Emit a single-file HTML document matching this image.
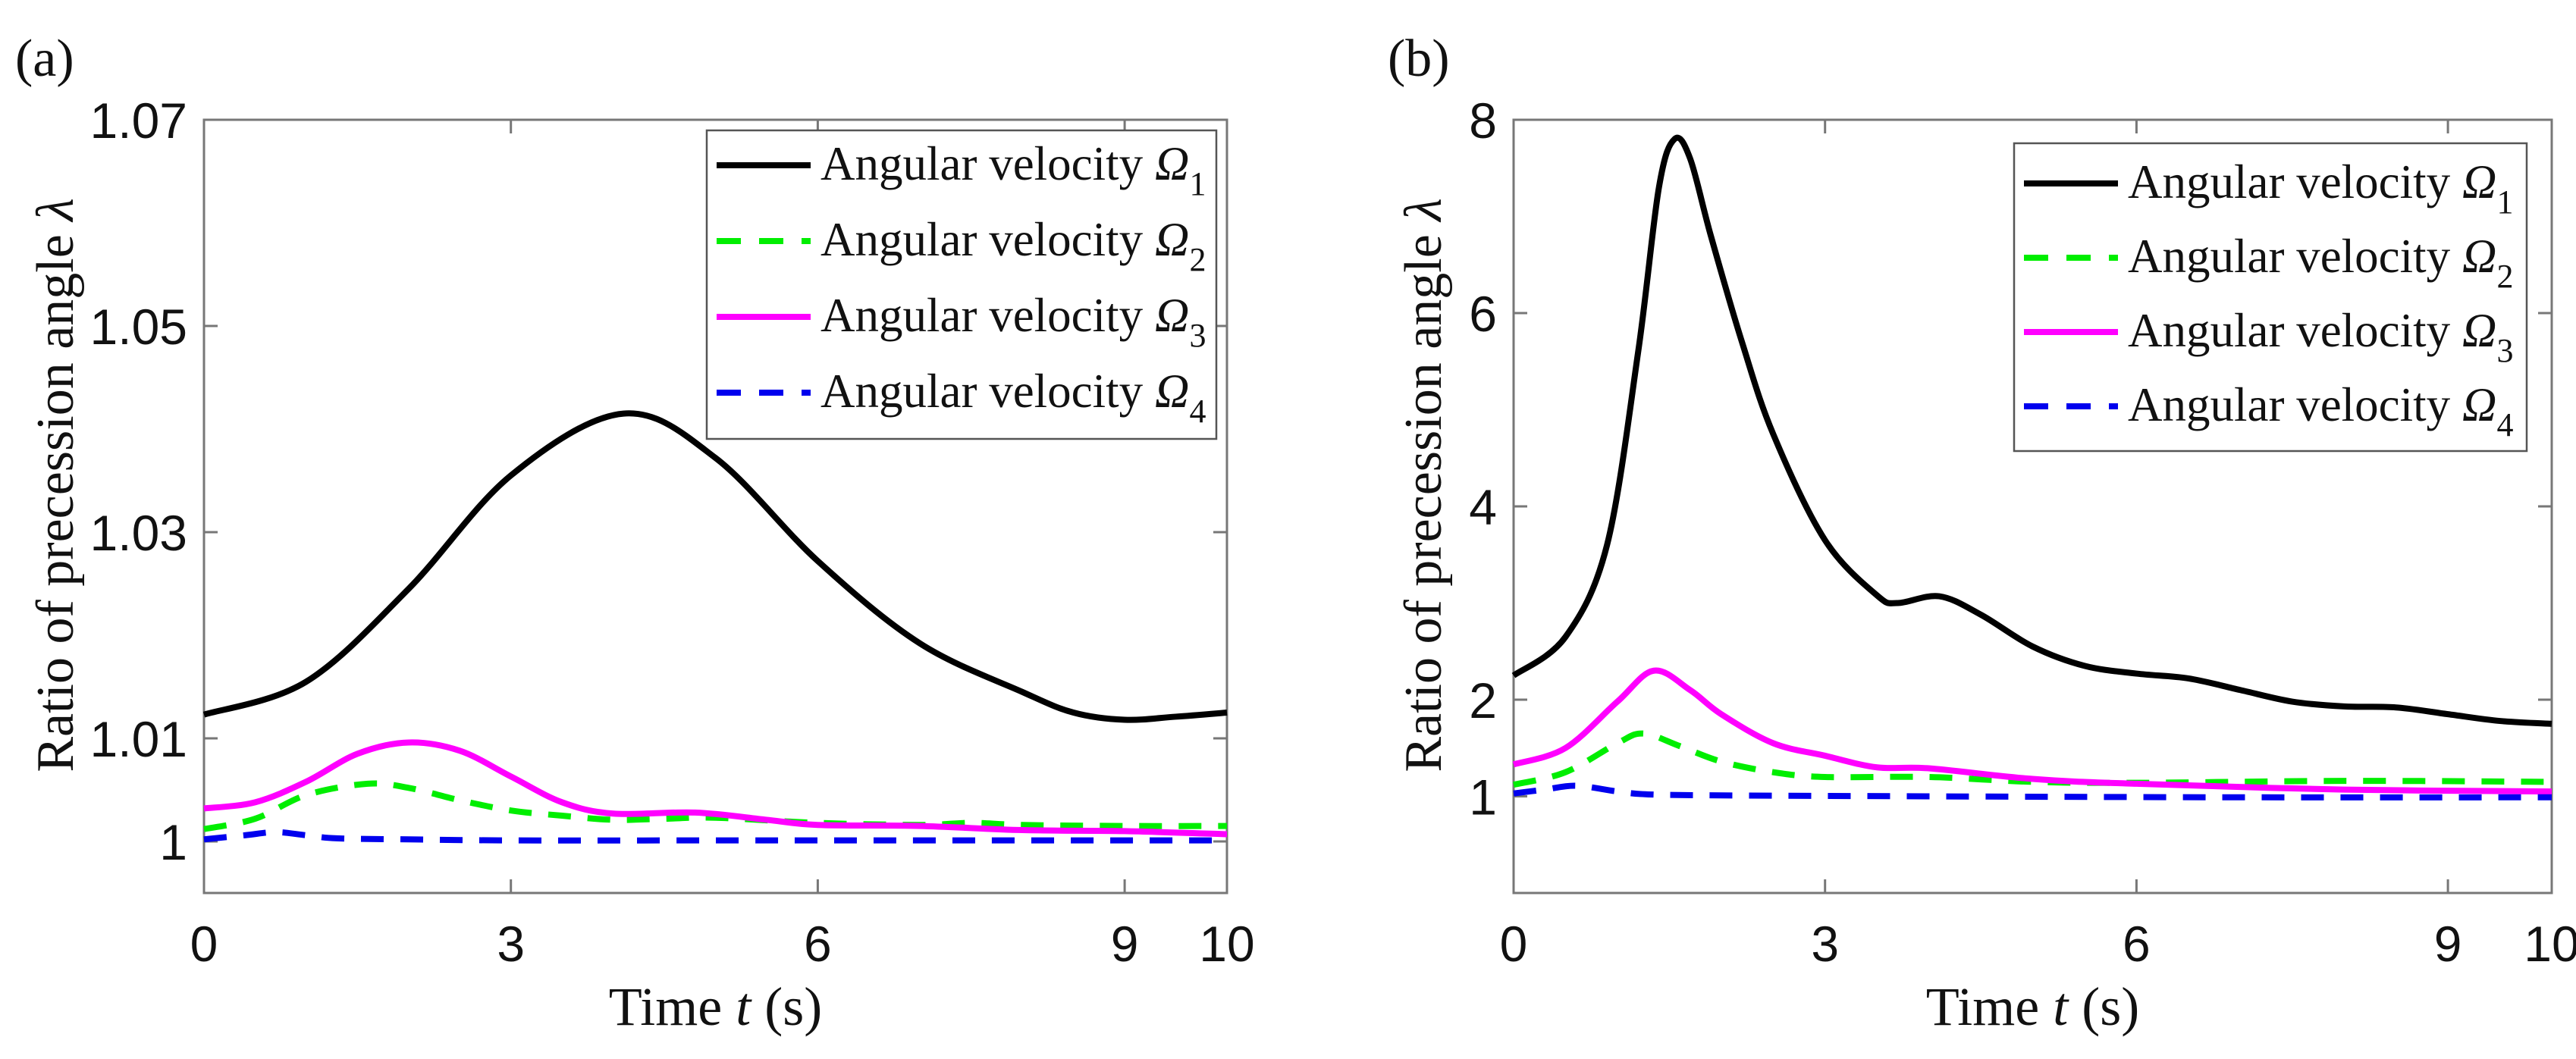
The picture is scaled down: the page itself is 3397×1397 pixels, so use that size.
<!DOCTYPE html>
<html><head><meta charset="utf-8"><style>
html,body{margin:0;padding:0;background:#fff;}
svg{display:block;}
</style></head><body>
<svg id="fig" width="3397" height="1397" viewBox="0 0 3397 1397" xmlns="http://www.w3.org/2000/svg"></svg>
<script>
// ---- Panel (a) data ----
const aBlackX=[0,1,2,3,4.1,5,6,7,8,8.5,9,9.5,10];
const aBlackY=[1.0123,1.0155,1.0245,1.0355,1.0415,1.0372,1.0272,1.0192,1.0145,1.0125,1.0118,1.0121,1.0125];
const aMagX=[0,0.5,1,1.5,2,2.5,3,3.5,4,4.8,5.5,6,7,8,9,10];
const aMagY=[1.0032,1.0038,1.0058,1.0085,1.0096,1.0088,1.0063,1.0038,1.0027,1.0028,1.0021,1.0016,1.0015,1.0011,1.0010,1.0007];
const aGreenX=[0,0.5,1,1.6,2,2.5,3,3.5,4,4.5,5,6,7,7.5,8,9,10];
const aGreenY=[1.0012,1.0022,1.0045,1.0056,1.0052,1.0040,1.0030,1.0025,1.0021,1.0022,1.0023,1.0018,1.0016,1.0018,1.0016,1.0015,1.0015];
const aBlueX=[0,0.4,0.7,1,1.3,2,3,5,7,10];
const aBlueY=[1.0002,1.0006,1.0009,1.0006,1.0003,1.0002,1.0001,1.0001,1.0001,1.0001];
const aXTicks=[0,3,6,9,10];
const aYTicks=[1,1.01,1.03,1.05,1.07];
const aYTickLabels=["1","1.01","1.03","1.05","1.07"];
// ---- Panel (b) data ----
const bBlackX=[0,0.5,0.9,1.2,1.4,1.55,1.7,1.9,2.2,2.5,3,3.5,3.7,4.1,4.5,5,5.5,6,6.5,7,7.5,8,8.5,9,9.5,10];
const bBlackY=[2.25,2.65,3.6,5.6,7.3,7.8,7.6,6.8,5.7,4.75,3.65,3.08,3.0,3.07,2.88,2.55,2.35,2.27,2.22,2.1,1.98,1.93,1.92,1.85,1.78,1.75];
const bMagX=[0,0.5,1,1.35,1.7,2,2.5,3,3.5,4,5,6,8,10];
const bMagY=[1.33,1.5,1.98,2.3,2.1,1.85,1.55,1.42,1.3,1.29,1.18,1.13,1.07,1.05];
const bGreenX=[0,0.5,1,1.25,1.6,2,2.5,3,4,5,6,8,10];
const bGreenY=[1.12,1.25,1.55,1.65,1.52,1.36,1.25,1.2,1.2,1.15,1.14,1.16,1.15];
const bBlueX=[0,0.3,0.6,1,1.3,2,4,7,10];
const bBlueY=[1.03,1.07,1.11,1.05,1.02,1.01,1.0,0.99,0.99];
const bXTicks=[0,3,6,9,10];
const bYTicks=[1,2,4,6,8];
const bYTickLabels=["1","2","4","6","8"];
const legendSubs=["1","2","3","4"];

const NS="http://www.w3.org/2000/svg";
const svg=document.getElementById('fig');
function mk(tag,attrs,parent){const e=document.createElementNS(NS,tag);for(const k in attrs)e.setAttribute(k,attrs[k]);(parent||svg).appendChild(e);return e;}
function smooth(pts){
  let d=`M${pts[0][0]},${pts[0][1]}`;
  for(let i=0;i<pts.length-1;i++){
    const p0=pts[Math.max(0,i-1)],p1=pts[i],p2=pts[i+1],p3=pts[Math.min(pts.length-1,i+2)];
    const c1=[p1[0]+(p2[0]-p0[0])/6,p1[1]+(p2[1]-p0[1])/6];
    const c2=[p2[0]-(p3[0]-p1[0])/6,p2[1]-(p3[1]-p1[1])/6];
    d+=` C${c1[0]},${c1[1]} ${c2[0]},${c2[1]} ${p2[0]},${p2[1]}`;
  }
  return d;
}
const styles=[
  {c:"#000",dash:null},{c:"#00ee00",dash:"30 22"},{c:"#ff00ff",dash:null},{c:"#0000ee",dash:"30 22"}
];
function panel(o){
  const g=mk('g',{});
  
  
  const L=o.L,R=o.R,T=158,B=1178;
  const sx=v=>L+(v-0)/(10-0)*(R-L);
  const sy=v=>B-(v-o.ymin)/(o.ymax-o.ymin)*(B-T);
  const box=mk('rect',{x:L,y:T,width:R-L,height:B-T,fill:'none',stroke:'#777','stroke-width':3},g);
  
  o.xt.forEach(v=>{
    const x=sx(v);
    mk('line',{x1:x,y1:B,x2:x,y2:B-18,stroke:'#777','stroke-width':3},g);
    mk('line',{x1:x,y1:T,x2:x,y2:T+18,stroke:'#777','stroke-width':3},g);
    const t=mk('text',{x:x,y:1268,'font-family':'Liberation Sans, sans-serif','font-size':66,'text-anchor':'middle',fill:'#111'},g);
    t.textContent=String(v);
    
  });
  o.yt.forEach((v,i)=>{
    const y=sy(v);
    mk('line',{x1:L,y1:y,x2:L+18,y2:y,stroke:'#777','stroke-width':3},g);
    mk('line',{x1:R,y1:y,x2:R-18,y2:y,stroke:'#777','stroke-width':3},g);
    const t=mk('text',{x:L-22,y:y+24,'font-family':'Liberation Sans, sans-serif','font-size':66,'text-anchor':'end',fill:'#111'},g);
    t.textContent=o.ytl[i];
    
  });
  o.series.forEach((s,i)=>{
    const pts=s[0].map((x,j)=>[sx(x),sy(s[1][j])]);
    const p=mk('path',{d:smooth(pts),fill:'none',stroke:styles[i].c,'stroke-width':8,'stroke-linejoin':'round'},g);
    if(styles[i].dash)p.setAttribute('stroke-dasharray',styles[i].dash);
    
  });
  const lg=mk('g',{},g);
  
  mk('rect',{x:o.lx,y:o.ly,width:o.lw,height:o.lh,fill:'#fff',stroke:'#555','stroke-width':2.5},lg);
  for(let i=0;i<4;i++){
    const cy=o.ly+o.row0+i*o.rowStep;
    const ln=mk('line',{x1:o.lx+13,y1:cy,x2:o.lx+137,y2:cy,stroke:styles[i].c,'stroke-width':8},lg);
    if(styles[i].dash)ln.setAttribute('stroke-dasharray','32 24');
    const t=mk('text',{x:o.lx+150,y:cy+19,'font-family':'Liberation Serif, serif','font-size':63,fill:'#111'},lg);
    
    const s1=mk('tspan',{},t);s1.textContent="Angular velocity ";
    const s2=mk('tspan',{'font-style':'italic'},t);s2.textContent="\u03A9";
    const s3=mk('tspan',{'font-size':44,dy:20},t);s3.textContent=legendSubs[i];
  }
  const xl=mk('text',{x:(L+R)/2,y:1352,'font-family':'Liberation Serif, serif','font-size':72,'text-anchor':'middle',fill:'#111'},g);
  
  xl.innerHTML='Time <tspan font-style="italic">t</tspan> (s)';
  const yl=mk('text',{x:0,y:0,transform:`translate(${o.ylx},640) rotate(-90)`,'font-family':'Liberation Serif, serif','font-size':70,'text-anchor':'middle',fill:'#111'},g);
  
  yl.innerHTML='Ratio of precession angle <tspan font-style="italic">\u03BB</tspan>';
  const pl=mk('text',{x:o.plx,y:100,'font-family':'Liberation Serif, serif','font-size':70,fill:'#111'},g);
  
  pl.textContent=o.label;
}
panel({name:'panel-a',label:'(a)',plx:20,L:269,R:1618,ymin:0.995,ymax:1.07,xt:aXTicks,yt:aYTicks,ytl:aYTickLabels,
  series:[[aBlackX,aBlackY],[aGreenX,aGreenY],[aMagX,aMagY],[aBlueX,aBlueY]],
  lx:932,ly:172,lw:672,lh:407,row0:46,rowStep:100,ylx:96});
panel({name:'panel-b',label:'(b)',plx:1830,L:1996,R:3365,ymin:0,ymax:8,xt:bXTicks,yt:bYTicks,ytl:bYTickLabels,
  series:[[bBlackX,bBlackY],[bGreenX,bGreenY],[bMagX,bMagY],[bBlueX,bBlueY]],
  lx:2656,ly:189,lw:676,lh:406,row0:53,rowStep:98,ylx:1900});
</script>
</body></html>
